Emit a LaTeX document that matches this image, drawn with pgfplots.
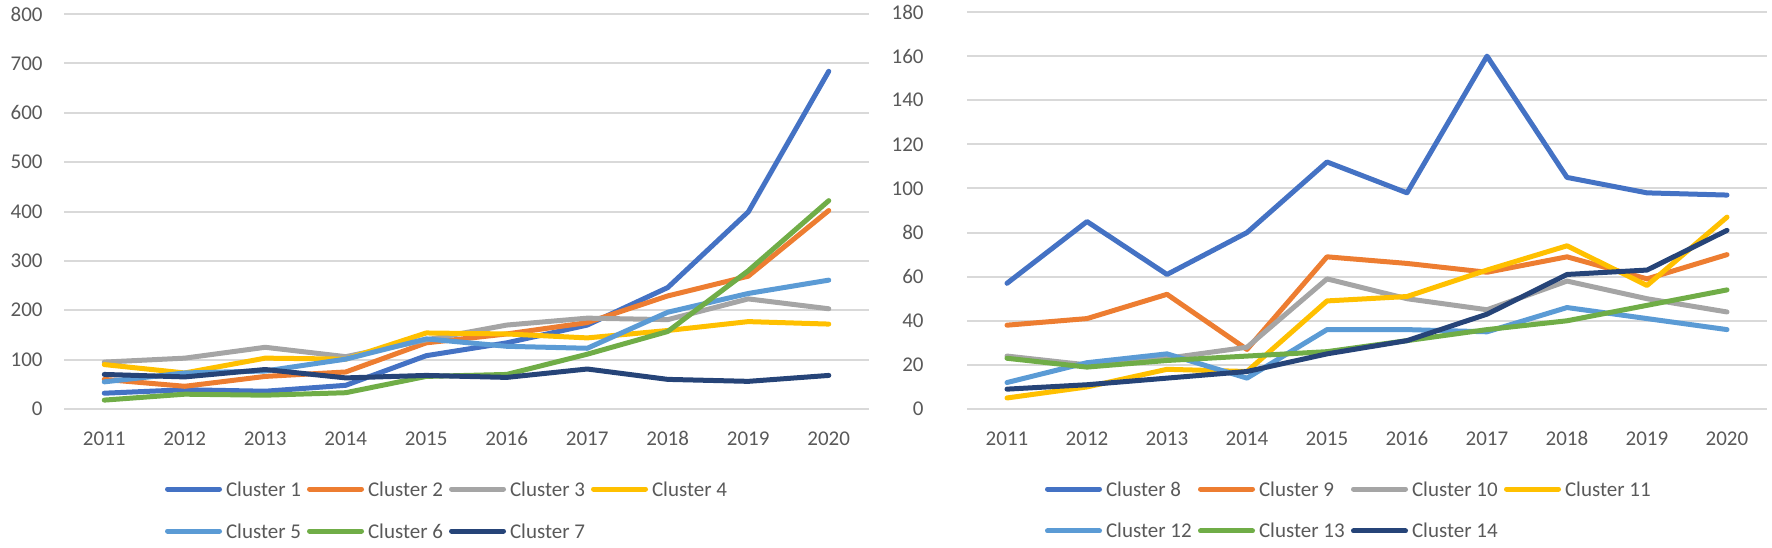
\documentclass[border=0pt]{standalone}
\usepackage{fontspec}
\setmainfont{Carlito}
\usepackage{pgfplots}
\usepackage{pgfplotstable}
\pgfplotsset{compat=1.18}

\definecolor{c1}{HTML}{4472C4}
\definecolor{c2}{HTML}{ED7D31}
\definecolor{c3}{HTML}{A5A5A5}
\definecolor{c4}{HTML}{FFC000}
\definecolor{c5}{HTML}{5B9BD5}
\definecolor{c6}{HTML}{70AD47}
\definecolor{c7}{HTML}{264478}
\definecolor{txt}{HTML}{595959}
\definecolor{gridc}{HTML}{D9D9D9}

\pgfplotstableread{
year  a1  a2  a3  a4  a5  a6  a7
2011  32  60  95  90  55  18  70
2012  39  46 103  73  73  30  65
2013  36  66 125 103  77  28  80
2014  48  75 106 101 101  33  63
2015 108 134 140 154 142  66  68
2016 134 152 170 152 127  70  64
2017 170 175 184 144 123 111  81
2018 246 229 181 159 196 157  60
2019 399 269 223 177 234 280  56
2020 684 402 203 172 261 422  68
}\lefttab

\pgfplotstableread{
year  b8  b9 b10 b11 b12 b13 b14
2011  57  38  24   5  12  23   9
2012  85  41  20  10  21  19  11
2013  61  52  23  18  25  22  14
2014  80  27  28  17  14  24  17
2015 112  69  59  49  36  26  25
2016  98  66  50  51  36  31  31
2017 160  62  45  63  35  36  43
2018 105  69  58  74  46  40  61
2019  98  59  50  56  41  47  63
2020  97  70  44  87  36  54  81
}\righttab

\pgfplotsset{
  xlchart/.style={
    scale only axis,
    anchor=south west,
    xmin=2010.5, xmax=2020.5,
    ymin=0,
    clip=false,
    xtick={2011,...,2020},
    xticklabels={2011,2012,2013,2014,2015,2016,2017,2018,2019,2020},
    axis line style={draw=none},
    tick style={draw=none},
    ymajorgrids,
    grid style={draw=gridc, line width=1pt},
    /pgf/number format/assume math mode=true,
    /pgf/number format/1000 sep={},
    tick label style={font=\fontsize{10.5}{12}\selectfont, text=txt},
    yticklabel style={anchor=east, inner sep=0pt, xshift=-10.5pt},
    xticklabel style={anchor=north, inner sep=0pt, yshift=-11pt},
    every axis plot/.append style={line width=2.5pt, line join=round, line cap=round},
    legend columns=4,
    legend image code/.code={\draw[#1] (0pt,0pt) -- (26pt,0pt);},
    legend style={draw=none, fill=none, inner sep=0pt, row sep=13pt,
      font=\fontsize{10.5}{12}\selectfont, text=txt,
      cells={anchor=west},
      nodes={inner sep=0pt, text height=7.5pt, text depth=0.5pt}},
  }
}

\begin{document}
\begin{tikzpicture}
\path[use as bounding box] (0,0) rectangle (886pt,273.5pt);

\begin{axis}[xlchart,
  at={(32pt,69pt)}, width=402.5pt, height=197.5pt,
  ymax=800, ytick distance=100,
  legend style={at={(axis description cs:0.125,-0.2557)}, anchor=west}]
\addplot[c1] table[x=year,y=a1]{\lefttab};
\addlegendentry{\makebox[42.5pt][l]{\hspace{2pt}Cluster 1}}
\addplot[c2] table[x=year,y=a2]{\lefttab};
\addlegendentry{\makebox[42.5pt][l]{\hspace{2pt}Cluster 2}}
\addplot[c3] table[x=year,y=a3]{\lefttab};
\addlegendentry{\makebox[42.5pt][l]{\hspace{2pt}Cluster 3}}
\addplot[c4] table[x=year,y=a4]{\lefttab};
\addlegendentry{\makebox[42.5pt][l]{\hspace{2pt}Cluster 4}}
\addplot[c5] table[x=year,y=a5]{\lefttab};
\addlegendentry{\makebox[42.5pt][l]{\hspace{2pt}Cluster 5}}
\addplot[c6] table[x=year,y=a6]{\lefttab};
\addlegendentry{\makebox[42.5pt][l]{\hspace{2pt}Cluster 6}}
\addplot[c7] table[x=year,y=a7]{\lefttab};
\addlegendentry{\makebox[42.5pt][l]{\hspace{2pt}Cluster 7}}
\end{axis}

\begin{axis}[xlchart,
  at={(483.5pt,69pt)}, width=400pt, height=198.5pt,
  ymax=180, ytick distance=20,
  yticklabel style={xshift=-11pt},
  legend style={at={(axis description cs:0.097,-0.2544)}, anchor=west}]
\addplot[c1] table[x=year,y=b8]{\righttab};
\addlegendentry{\makebox[48pt][l]{\hspace{2pt}Cluster 8}}
\addplot[c2] table[x=year,y=b9]{\righttab};
\addlegendentry{\makebox[48pt][l]{\hspace{2pt}Cluster 9}}
\addplot[c3] table[x=year,y=b10]{\righttab};
\addlegendentry{\makebox[48pt][l]{\hspace{2pt}Cluster 10}}
\addplot[c4] table[x=year,y=b11]{\righttab};
\addlegendentry{\makebox[48pt][l]{\hspace{2pt}Cluster 11}}
\addplot[c5] table[x=year,y=b12]{\righttab};
\addlegendentry{\makebox[48pt][l]{\hspace{2pt}Cluster 12}}
\addplot[c6] table[x=year,y=b13]{\righttab};
\addlegendentry{\makebox[48pt][l]{\hspace{2pt}Cluster 13}}
\addplot[c7] table[x=year,y=b14]{\righttab};
\addlegendentry{\makebox[48pt][l]{\hspace{2pt}Cluster 14}}
\end{axis}
\end{tikzpicture}
\end{document}
